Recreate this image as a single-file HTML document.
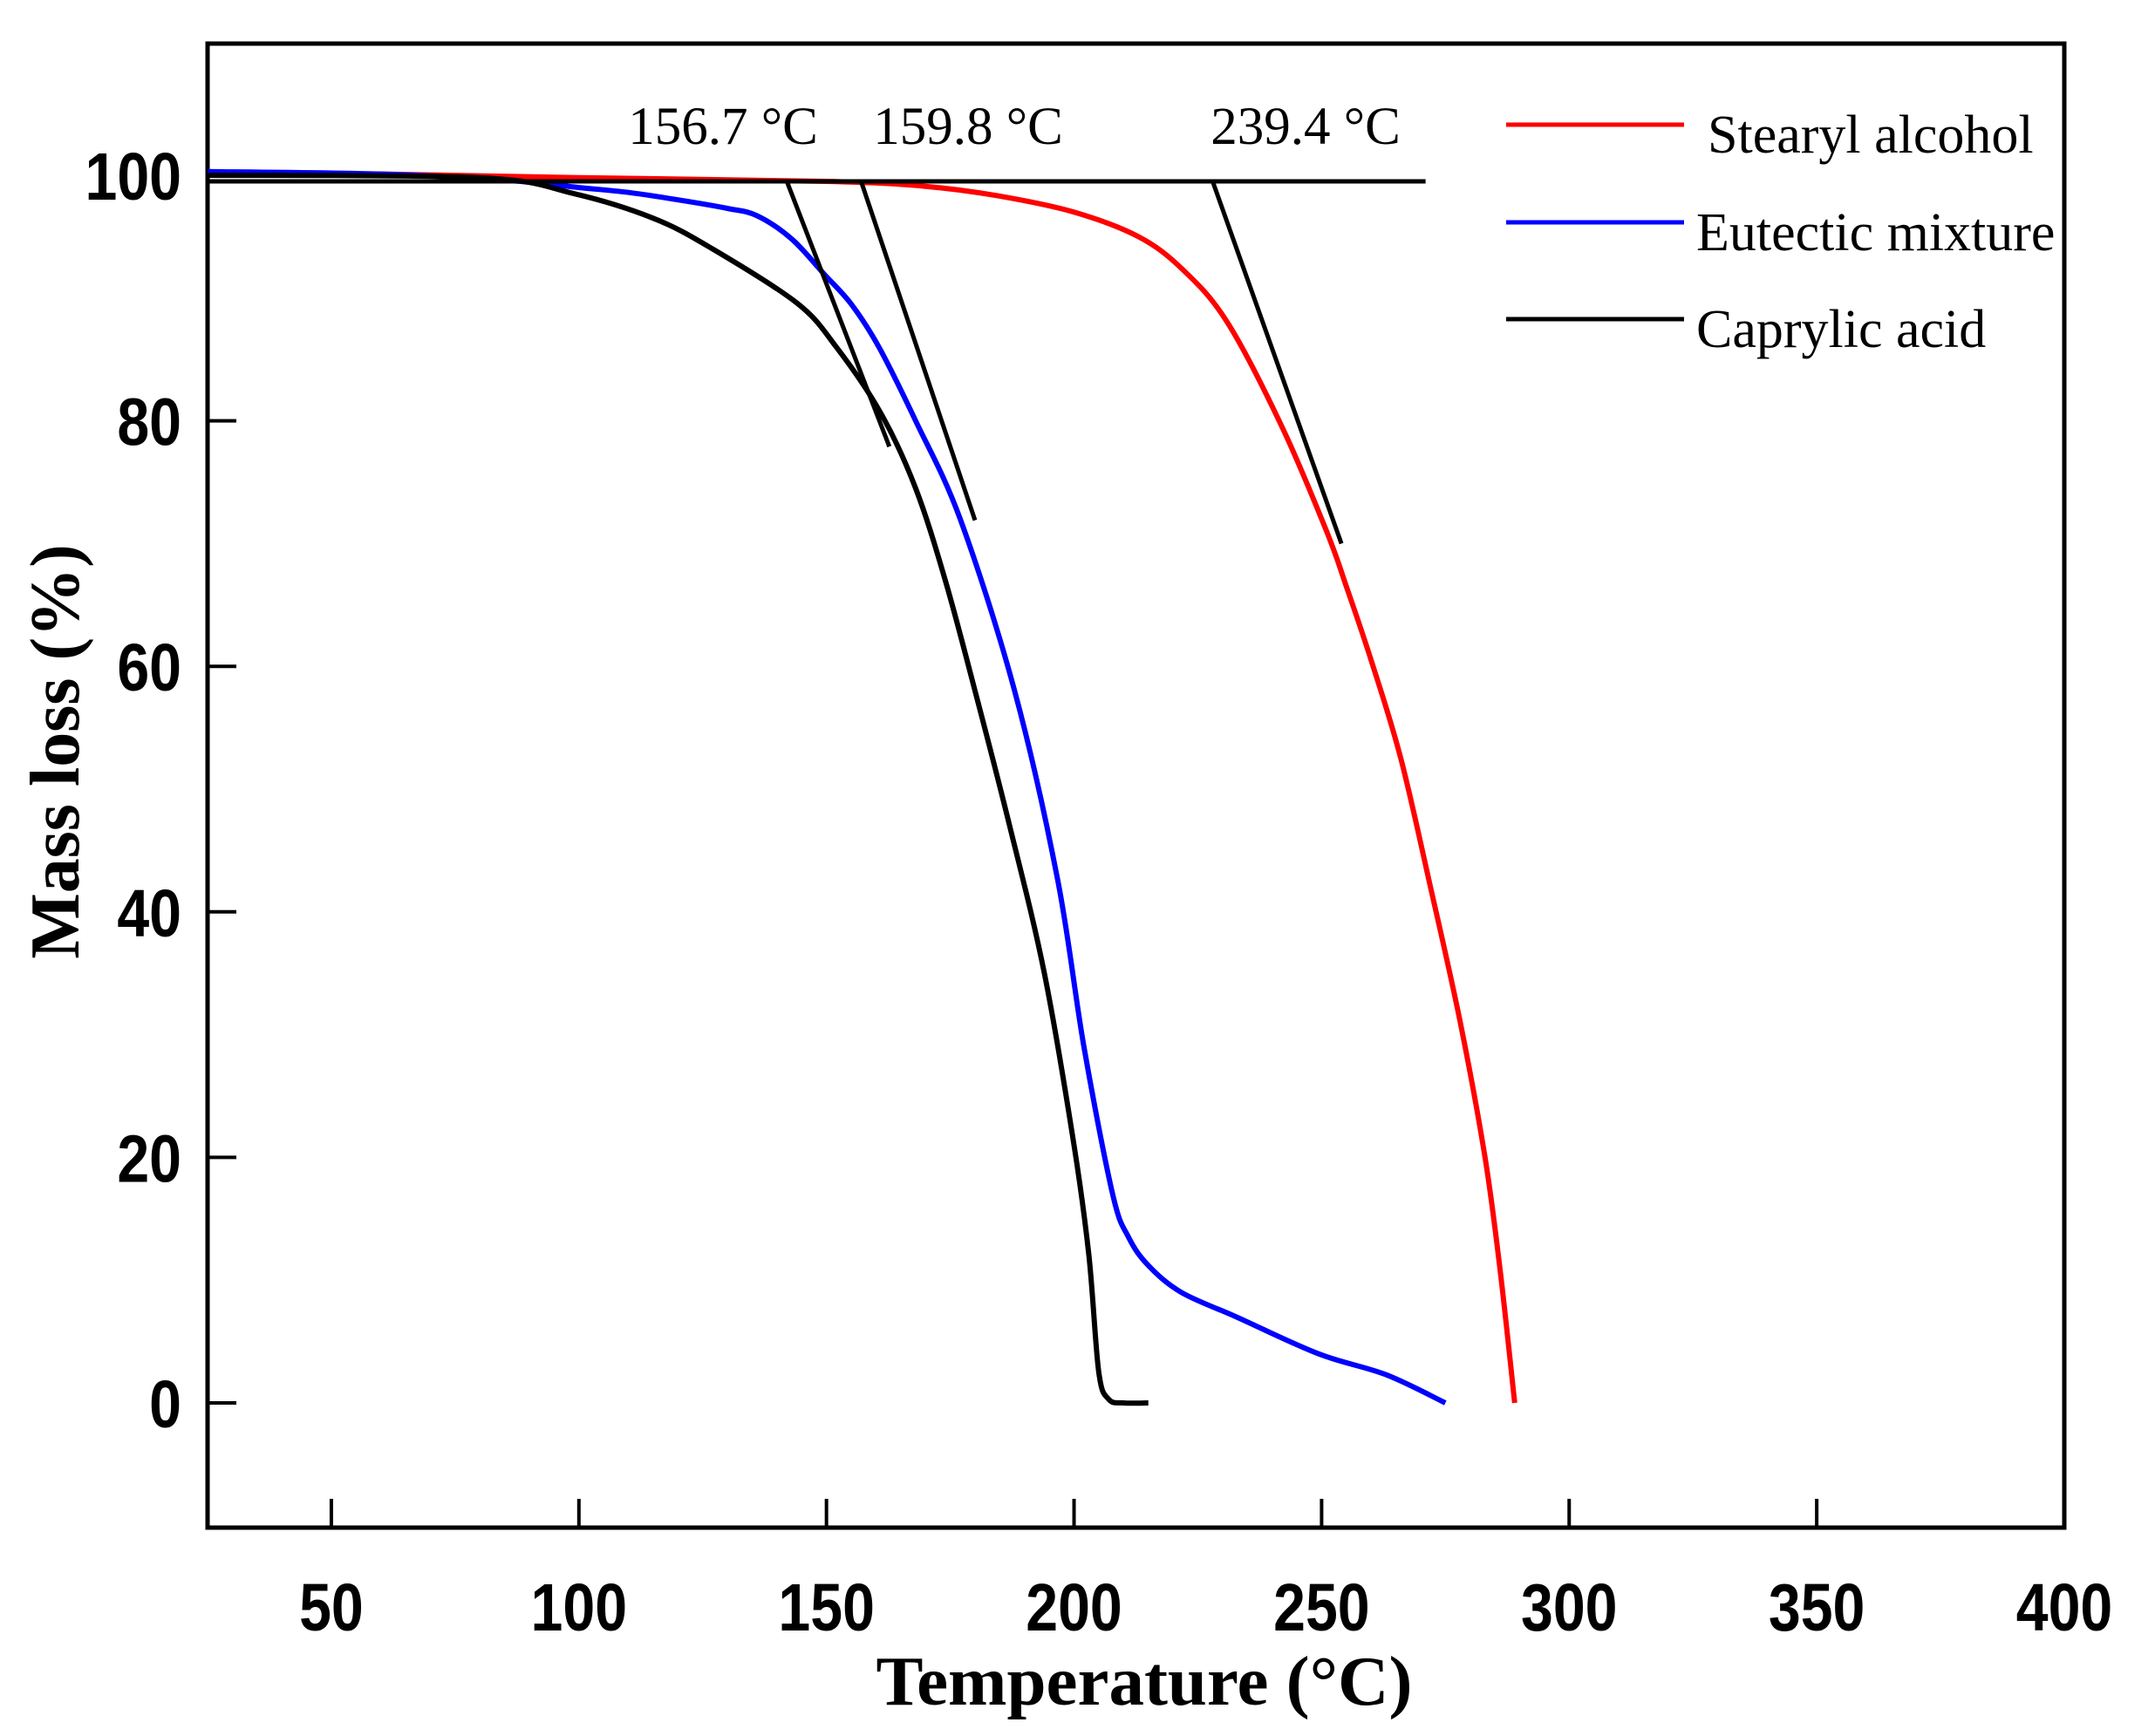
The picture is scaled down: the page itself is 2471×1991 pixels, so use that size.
<!DOCTYPE html>
<html><head><meta charset="utf-8"><style>
html,body{margin:0;padding:0;background:#fff;}
svg{display:block;}
</style></head><body>
<svg id="chart" width="2471" height="1991" viewBox="0 0 2471 1991" xmlns="http://www.w3.org/2000/svg">
<g id="plot"></g>
</svg>
<script>
const xTicks = [50,100,150,200,250,300,350,400];
const yTicks = [0,20,40,60,80,100];
const stearylX = [25,60,100,150,170,185,200,213,222,231,242,251,255,260,266,272,278,283,286,289];
const stearylY = [100.2,100.1,99.8,99.5,99.1,98.3,97,95,92.3,88,79.5,71,66.5,60.5,52.5,42,31,20,11,0];
const eutecticX = [25,60,85,100,110,120,130,136,143,149.4,155,160.6,168,177,188,196.7,202,207.8,211,215,221.7,232.8,249.4,263,275];
const eutecticY = [100.3,100.1,99.6,99,98.6,98,97.3,96.7,94.8,92,89.5,86,80,72,58,42.6,29,17,13.5,11.2,9,7,4,2.3,0];
const caprylicX = [25,80,99,115,127,144,152,161,168,174,180,187,194,200,203,205,207,210,215];
const caprylicY = [100,99.8,98.5,96.5,94,89.6,86,80.6,74.5,67,58,47,35,21,12,2.5,0.3,0,0];
const onsetLabels = ["156.7 °C","159.8 °C","239.4 °C"];
const tangentX1 = [142,157,228];
const tangentX2 = [162.7,180,254];
const tangentY2 = [77.9,71.9,70];
const baselineY = 99.5;
const baselineXEnd = 271;

const X0=238, X1=2367, Y0=1752, Y1=50;
const xMin=25, xMax=400;
const sx = v => X0 + (v-xMin)/(xMax-xMin)*(X1-X0);
const sy = v => 1609 - v*14.08;
const NS="http://www.w3.org/2000/svg";
const plot=document.getElementById('plot');
function mk(tag, attrs){const e=document.createElementNS(NS,tag);for(const k in attrs)e.setAttribute(k,attrs[k]);plot.appendChild(e);return e;}

let frame=mk('rect',{x:X0,y:Y1,width:X1-X0,height:Y0-Y1,fill:'none',stroke:'#000','stroke-width':5});



xTicks.forEach(t=>{
  const tk=mk('line',{x1:sx(t),x2:sx(t),y1:Y0,y2:Y0-33,stroke:'#000','stroke-width':4});
  
  
  const tl=mk('text',{x:sx(t),y:1870,'text-anchor':'middle','font-family':'Liberation Sans, sans-serif','font-weight':'bold','font-size':77,transform:`translate(${sx(t)},0) scale(0.86,1) translate(${-sx(t)},0)`});
  tl.textContent=t;
  
  
});
yTicks.forEach(t=>{
  const tk=mk('line',{x1:X0,x2:X0+33,y1:sy(t),y2:sy(t),stroke:'#000','stroke-width':4});
  
  
  const tl=mk('text',{x:208,y:sy(t)+28,'text-anchor':'end','font-family':'Liberation Sans, sans-serif','font-weight':'bold','font-size':77,transform:`translate(208,0) scale(0.86,1) translate(-208,0)`});
  tl.textContent=t;
  
  
});

let xt=mk('text',{x:1312,y:1955,'text-anchor':'middle','font-family':'Liberation Serif, serif','font-weight':'bold','font-size':81});
xt.textContent='Temperature (°C)';


let yt=mk('text',{x:0,y:0,'text-anchor':'middle','font-family':'Liberation Serif, serif','font-weight':'bold','font-size':80,transform:'translate(90,862) rotate(-90)'});
yt.textContent='Mass loss (%)';



function smoothPath(pts){
  let d='M'+pts[0][0].toFixed(1)+','+pts[0][1].toFixed(1);
  for(let i=0;i<pts.length-1;i++){
    const p0=pts[Math.max(i-1,0)],p1=pts[i],p2=pts[i+1],p3=pts[Math.min(i+2,pts.length-1)];
    const c1=[p1[0]+(p2[0]-p0[0])/6,p1[1]+(p2[1]-p0[1])/6];
    const c2=[p2[0]-(p3[0]-p1[0])/6,p2[1]-(p3[1]-p1[1])/6];
    d+=' C'+c1[0].toFixed(1)+','+c1[1].toFixed(1)+' '+c2[0].toFixed(1)+','+c2[1].toFixed(1)+' '+p2[0].toFixed(1)+','+p2[1].toFixed(1);
  }
  return d;
}
function series(xs,ys,color,name){
  const pts=xs.map((x,i)=>[sx(x),sy(ys[i])]);
  const p=mk('path',{d:smoothPath(pts),fill:'none',stroke:color,'stroke-width':6,'stroke-linejoin':'round'});
  
  
}
series(stearylX,stearylY,'#ff0000','stearyl-alcohol-line');
series(eutecticX,eutecticY,'#0000ff','eutectic-mixture-line');
series(caprylicX,caprylicY,'#000000','caprylic-acid-line');

let bl=mk('line',{x1:sx(xMin),x2:sx(baselineXEnd),y1:sy(baselineY),y2:sy(baselineY),stroke:'#000','stroke-width':5});


const labelCx=[829,1110,1497];
onsetLabels.forEach((lab,i)=>{
  const l=mk('line',{x1:sx(tangentX1[i]),y1:sy(baselineY),x2:sx(tangentX2[i]),y2:sy(tangentY2[i]),stroke:'#000','stroke-width':5});
  
  
  const t=mk('text',{x:labelCx[i],y:165,'text-anchor':'middle','font-family':'Liberation Serif, serif','font-size':61});
  t.textContent=lab;
  
  
});

const legNames=['Stearyl alcohol','Eutectic mixture','Caprylic acid'];
const legColors=['#ff0000','#0000ff','#000000'];
const legY=[143,255,366];
const legTx=[1958,1945,1945];
legNames.forEach((n,i)=>{
  const l=mk('line',{x1:1727,x2:1931,y1:legY[i],y2:legY[i],stroke:legColors[i],'stroke-width':5});
  
  
  const t=mk('text',{x:legTx[i],y:legY[i]+32,'font-family':'Liberation Serif, serif','font-size':62});
  t.textContent=n;
  
  
});
</script>
</body></html>
